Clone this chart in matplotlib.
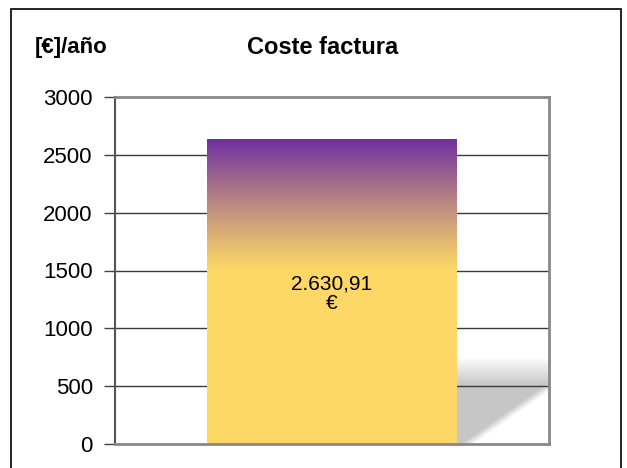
import numpy as np
import matplotlib.pyplot as plt
from matplotlib.patches import Rectangle
from matplotlib.colors import to_rgb

plt.rcParams['font.family'] = ['Liberation Sans', 'DejaVu Sans']

# Datos
categorias = ['Coste factura']
valores = [2630.91]
etiquetas = ['2.630,91\n€']
yticks = [0, 500, 1000, 1500, 2000, 2500, 3000]

fig = plt.figure(figsize=(6.27, 4.68), dpi=100)
ax = fig.add_axes([115 / 627, 24 / 468, 434 / 627, 347 / 468])

# Marco exterior
fig.patches.append(Rectangle((11 / 627, -0.05), 610 / 627, 1.05 - 9 / 468,
                             transform=fig.transFigure, fill=False,
                             edgecolor='black', linewidth=1.2))

ancho = 0.574
x0, x1 = -ancho / 2, ancho / 2
valor = valores[0]

# Sombra bajo la barra
sx = np.linspace(0.2, 0.5, 200)
sy = np.linspace(0, 800, 200)
X, Y = np.meshgrid(sx, sy)
a_top = np.clip((750 - Y) / 240, 0, 1)
borde = 0.311 + Y * (0.184 / 484)
a_diag = np.clip((borde - X) / 0.03 + 0.5, 0, 1)
alpha = a_top * a_diag
img = np.zeros((200, 200, 4))
img[..., :3] = 0.78
img[..., 3] = alpha
ax.imshow(img, extent=(0.2, 0.5, 0, 800), origin='lower', aspect='auto',
          zorder=0.8, interpolation='bilinear')

# Rejilla
for t in yticks[1:-1]:
    ax.axhline(t, color='#3a3a3a', linewidth=1, zorder=1)

# Barra con degradado
amarillo = np.array(to_rgb('#FDD866'))
morado = np.array(to_rgb('#7030A0'))
n = 300
h = np.linspace(0, valor, n)
f = np.clip((h - 1500) / (valor - 1500), 0, 1) ** 1.1
cols = amarillo[None, :] * (1 - f[:, None]) + morado[None, :] * f[:, None]
ax.imshow(cols[:, None, :], extent=(x0, x1, 0, valor), origin='lower',
          aspect='auto', zorder=2, interpolation='bilinear')

ax.text(0, 1300, etiquetas[0], ha='center', va='center', fontsize=15,
        linespacing=1.0, zorder=3)

ax.set_xlim(-0.5, 0.5)
ax.set_ylim(0, 3000)
ax.set_yticks(yticks)
ax.set_yticklabels([str(t) for t in yticks], fontsize=16)
ax.set_xticks([])
ax.tick_params(axis='y', length=8, width=1, color='#404040', pad=8)

for lado in ['top', 'right', 'bottom']:
    ax.spines[lado].set_color('#888888')
    ax.spines[lado].set_linewidth(2)
ax.spines['left'].set_color('#555555')
ax.spines['left'].set_linewidth(1.5)

fig.text(35 / 627, 1 - 48 / 468, '[€]/año', fontsize=16, fontweight='bold',
         ha='left', va='center')
fig.text(323 / 627, 1 - 48 / 468, categorias[0], fontsize=17,
         fontweight='bold', ha='center', va='center')

fig.savefig('out.png', dpi=100)
